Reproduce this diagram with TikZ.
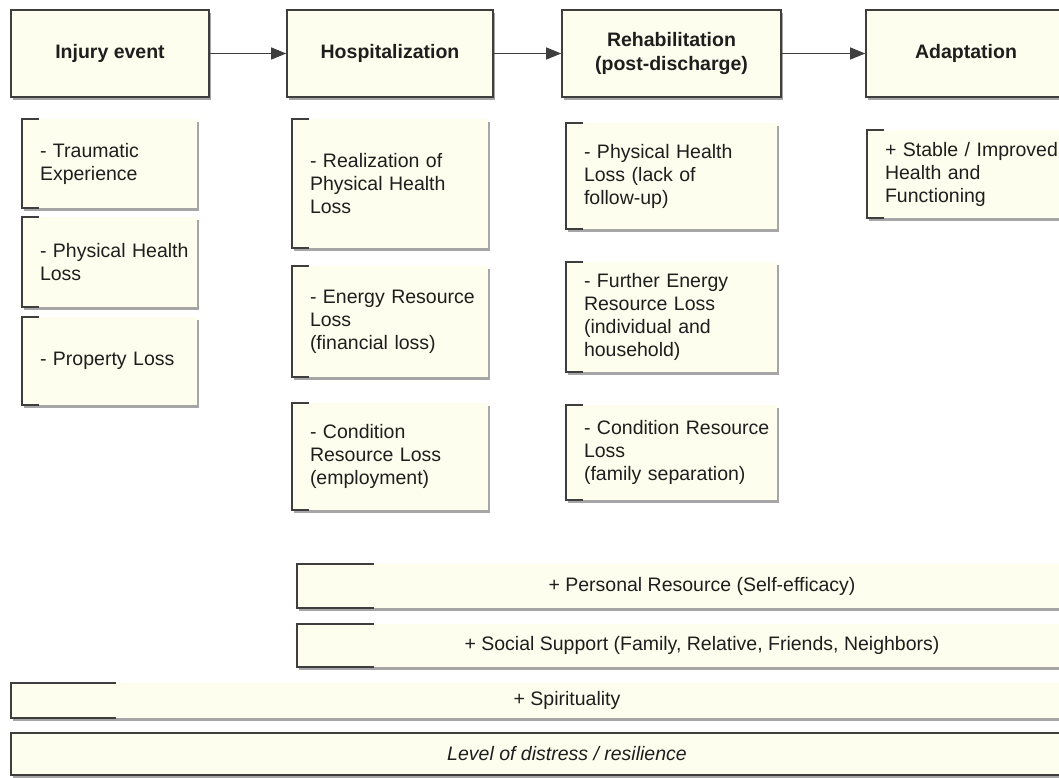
\documentclass[tikz,border=0pt]{standalone}
\usepackage{fontspec}
\setmainfont{Liberation Sans}
\usetikzlibrary{arrows.meta,shadows}
\definecolor{cream}{RGB}{254,254,238}
\definecolor{edge}{RGB}{62,62,62}
\definecolor{ink}{RGB}{30,30,30}
\begin{document}
\begin{tikzpicture}[x=1pt,y=-1pt,text=ink,
    font=\fontsize{19.5}{23}\selectfont,
    boxshadow/.style={drop shadow={shadow xshift=1.5pt,shadow yshift=-2.5pt,opacity=.35,fill=black}},
    stage/.style={draw=edge,line width=1.6pt,fill=cream,minimum height=87pt,align=center,
      font=\fontsize{19.5}{24}\selectfont\bfseries,boxshadow},
    note/.style={fill=cream,inner xsep=0pt,inner ysep=0pt,text width=#1,align=left,
      execute at begin node={\leftskip=18pt\relax},boxshadow},
    bar/.style={fill=cream,inner sep=0pt,boxshadow},
    bracket/.style={draw=edge,line width=1.8pt},
    flow/.style={draw=edge,line width=1.2pt,-{Triangle[length=15pt,width=12pt]}}]
    \useasboundingbox (0,0) rectangle (1059,777);
    \clip (0,0) rectangle (1059,777);

    \node (inj) at (110,53.5) [stage,minimum width=198pt]{Injury event};
    \node (hosp) at (390,53.5) [stage,minimum width=206pt]{Hospitalization};
    \node (rehab) at (671.5,53.5) [stage,minimum width=219pt]{Rehabilitation\\(post-discharge)};
    \node (adapt) at (966,53.5) [stage,minimum width=200pt]{Adaptation};

    \draw[flow] (inj) -- (hosp);
    \draw[flow] (hosp) -- (rehab);
    \draw[flow] (rehab) -- (adapt);

    \node (inj1) at (109.5,163.5) [note=175pt,minimum height=89pt]{- Traumatic\\Experience};
    \node (inj2) at (109.5,262) [note=175pt,minimum height=90pt]{- Physical Health\\Loss};
    \node (inj3) at (109.5,361) [note=175pt,minimum height=88pt]{- Property Loss};

    \node (hosp1) at (390,183.5) [note=196pt,minimum height=129pt]{- Realization of\\Physical Health\\Loss};
    \node (hosp2) at (390,321.5) [note=196pt,minimum height=111pt]{- Energy Resource\\Loss\\(financial loss)};
    \node (hosp3) at (390,456.5) [note=196pt,minimum height=107pt]{- Condition\\Resource Loss\\(employment)};

    \node (rehab1) at (671.5,176) [note=211pt,minimum height=106pt]{- Physical Health\\Loss (lack of\\follow-up)};
    \node (rehab2) at (671.5,317) [note=211pt,minimum height=110pt]{- Further Energy\\Resource Loss\\(individual and\\household)};
    \node (rehab3) at (671.5,452.5) [note=211pt,minimum height=95pt]{- Condition Resource\\Loss\\(family separation)};

    \node (adapt1) at (967,174) [note=200pt,minimum height=88pt]{+ Stable / Improved\\Health and\\Functioning};

    \foreach \n in {inj1,inj2,inj3,hosp1,hosp2,hosp3,rehab1,rehab2,rehab3,adapt1}
      \draw[bracket] ([xshift=17pt]\n.north west) -- (\n.north west) -- (\n.south west) -- ([xshift=17pt]\n.south west);

    \node (pers) at (702,586) [bar,minimum width=810pt,minimum height=44pt]{+ Personal Resource (Self-efficacy)};
    \node (soc) at (702,645.5) [bar,minimum width=810pt,minimum height=43pt]{+ Social Support (Family, Relative, Friends, Neighbors)};
    \node (spir) at (567,700.5) [bar,minimum width=1112pt,minimum height=35pt]{+ Spirituality};
    \node (level) at (567,754) [bar,draw=edge,line width=1.6pt,minimum width=1112pt,minimum height=42pt]{\itshape Level of distress / resilience};

    \foreach \n in {pers,soc}
      \draw[bracket] ([xshift=77pt]\n.north west) -- (\n.north west) -- (\n.south west) -- ([xshift=77pt]\n.south west);
    \draw[bracket] ([xshift=105pt]spir.north west) -- (spir.north west) -- (spir.south west) -- ([xshift=105pt]spir.south west);

  \end{tikzpicture}
\end{document}
